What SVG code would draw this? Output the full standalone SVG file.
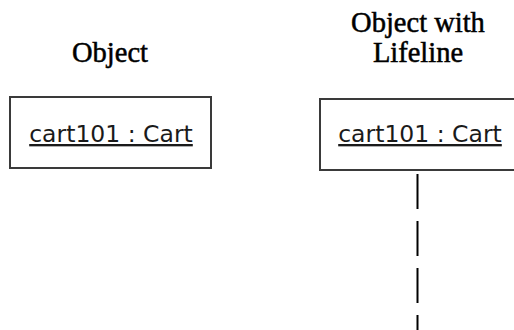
<svg xmlns="http://www.w3.org/2000/svg" width="514" height="330" viewBox="0 0 514 330">
  <style>
    .title { font-family: "Liberation Serif", "Times New Roman", serif; font-size: 28.5px; fill: #000; stroke: #000; stroke-width: 0.5; text-anchor: middle; }
    .box { fill: #fff; stroke: #3a3a3a; stroke-width: 2; }
    .label { font-family: "DejaVu Sans", Verdana, sans-serif; font-size: 23.5px; fill: #1a1a1a; text-anchor: middle; text-decoration: underline; }
    .lifeline { stroke: #000; stroke-width: 2; stroke-dasharray: 35 12; fill: none; }
  </style>
  <rect width="514" height="330" fill="#fff"/>

  <!-- headings -->
  <text class="title" x="110" y="62">Object</text>
  <text class="title" x="418" y="32">Object with</text>
  <text class="title" x="418" y="62">Lifeline</text>

  <!-- plain object -->
  <g id="cart-object">
    <rect class="box" x="10" y="97" width="201" height="71"/>
    <text class="label" x="111" y="142">cart101 : Cart</text>
  </g>

  <!-- object with lifeline -->
  <g id="cart-lifeline-object">
    <rect class="box" x="320" y="99" width="210" height="71"/>
    <text class="label" x="420" y="142">cart101 : Cart</text>
  </g>

  <g id="connectors">
    <line class="lifeline" x1="417.5" y1="174" x2="417.5" y2="330"/>
  </g>
</svg>
